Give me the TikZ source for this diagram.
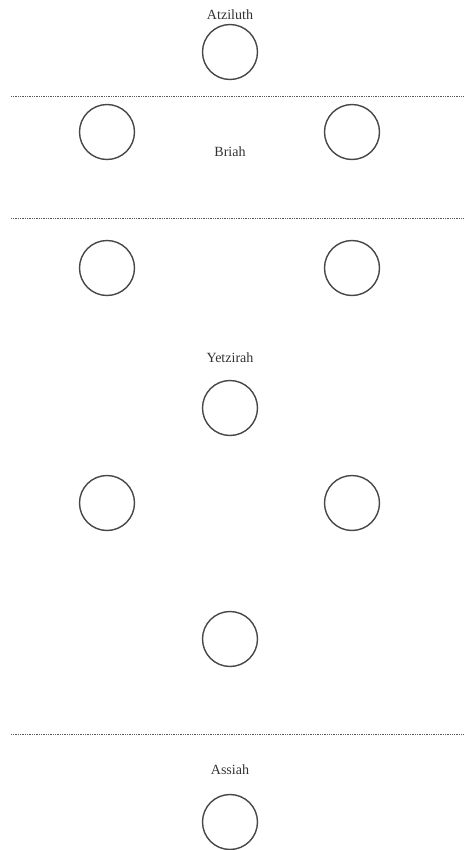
\documentclass[tikz,border=0pt]{standalone}
\usepackage{fontspec}
\setmainfont{Liberation Serif}
\usetikzlibrary{positioning}

\begin{document}
\begin{tikzpicture}[
    x=0.02cm, y=-0.02cm,
    sephira/.style={circle, draw=black!72, line width=0.8pt,
                 minimum size=1.1cm, inner sep=0pt},
    worldname/.style={inner sep=0pt, text=black!80,
                 font=\fontsize{8}{9.6}\selectfont},
    divider/.style={draw=black!65, line width=0.5pt,
                 dash pattern=on 0.5pt off 0.5pt}
]
    \useasboundingbox (0,0) rectangle (464,850);
    % Atziluth
    \node[sephira] (kether) at (230,52) {};
    \node[worldname, above=0.08cm of kether] (atziluth) {Atziluth};
    % Briah
    \node[sephira] (binah) at (107,132) {};
    \node[sephira] (chokmah) at (352,132) {};
    \node[worldname] (briah) at (230,152) {Briah};
    % Yetzirah
    \node[sephira] (geburah) at (107,268) {};
    \node[sephira] (chesed) at (352,268) {};
    \node[sephira] (tiphareth) at (230,408) {};
    \node[worldname, above=0.34cm of tiphareth] (yetzirah) {Yetzirah};
    \node[sephira] (hod) at (107,503) {};
    \node[sephira] (netzach) at (352,503) {};
    \node[sephira] (yesod) at (230,639) {};
    % Assiah
    \node[sephira] (malkuth) at (230,822) {};
    \node[worldname, above=0.38cm of malkuth] (assiah) {Assiah};
    % dividing lines
    \foreach \n/\yy in {1/96, 2/218, 3/734} {
        \coordinate (div\n w) at (11,\yy);
        \coordinate (div\n e) at (464,\yy);
        \draw[divider] (div\n w) -- (div\n e);
    }
\end{tikzpicture}
\end{document}
